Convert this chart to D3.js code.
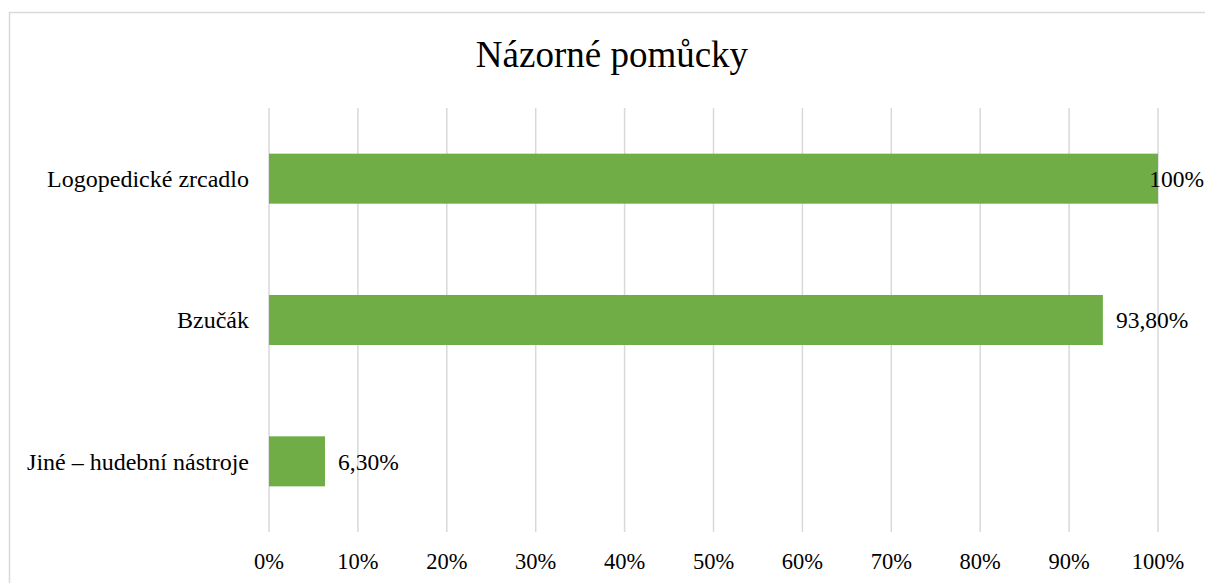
<!DOCTYPE html>
<html>
<head>
<meta charset="utf-8">
<script src="https://cdn.jsdelivr.net/npm/d3@7"></script>
<style>
  body { margin: 0; background: #fff; }
</style>
</head>
<body>
<div id="chart"></div>
<script>
// data
var categories = ["Logopedické zrcadlo", "Bzučák", "Jiné – hudební nástroje"]
var values = [100, 93.8, 6.3]
var valueLabels = ["100%", "93,80%", "6,30%"]
var ticks = [0, 10, 20, 30, 40, 50, 60, 70, 80, 90, 100]

var FONT = "'Liberation Serif', 'Times New Roman', serif"
var W = 1205, H = 583
var margin = {top: 108, right: 47, bottom: 51, left: 269}
var width = W - margin.left - margin.right,
    height = H - margin.top - margin.bottom

var svg = d3.select("#chart").append("svg")
    .attr("width", W)
    .attr("height", H)
    .attr("font-family", FONT)

// chart border
svg.append("rect")
    .attr("x", 9.5).attr("y", 12.5)
    .attr("width", 1200).attr("height", 580)
    .attr("fill", "none")
    .attr("stroke", "#d9d9d9")
    .attr("stroke-width", 1.5)

var g = svg.append("g")
    .attr("transform", "translate(" + margin.left + "," + margin.top + ")")

var x = d3.scaleLinear().domain([0, 100]).range([0, width])
var y = d3.scaleBand().domain(categories).range([0, height]).paddingInner(0.646).paddingOuter(0.323)

// grid lines
g.selectAll(".grid")
    .data(ticks)
  .enter().append("line")
    .attr("class", "grid")
    .attr("x1", function(d) { return x(d) }).attr("x2", function(d) { return x(d) })
    .attr("y1", 0).attr("y2", height)
    .attr("stroke", "#d9d9d9")
    .attr("stroke-width", 1.5)

// tick labels
g.selectAll(".tick-label")
    .data(ticks)
  .enter().append("text")
    .attr("class", "tick-label")
    .attr("x", function(d) { return x(d) })
    .attr("y", height + 37)
    .attr("text-anchor", "middle")
    .attr("font-family", FONT)
    .attr("font-size", 22.5)
    .text(function(d) { return d + "%" })

// bars
g.selectAll(".bar")
    .data(values)
  .enter().append("rect")
    .attr("class", "bar")
    .attr("x", x(0))
    .attr("y", function(d, i) { return y(categories[i]) })
    .attr("width", function(d) { return x(d) - x(0) })
    .attr("height", y.bandwidth())
    .attr("fill", "#70ad47")

// category labels
g.selectAll(".cat")
    .data(categories)
  .enter().append("text")
    .attr("class", "cat")
    .attr("x", -20)
    .attr("y", function(d) { return y(d) + y.bandwidth() / 2 })
    .attr("dy", ".35em")
    .attr("text-anchor", "end")
    .attr("font-family", FONT)
    .attr("font-size", 24)
    .text(function(d) { return d })

// value labels (pushed inside when they would overflow)
g.selectAll(".val")
    .data(values)
  .enter().append("text")
    .attr("class", "val")
    .attr("y", function(d, i) { return y(categories[i]) + y.bandwidth() / 2 })
    .attr("dy", ".35em")
    .attr("font-family", FONT)
    .attr("font-size", 23.5)
    .text(function(d, i) { return valueLabels[i] })
    .attr("x", function(d) {
        var w = this.getComputedTextLength()
        return Math.min(x(d) + 13, W - 1 - margin.left - w)
    })

// title
svg.append("text")
    .attr("x", 612)
    .attr("y", 67)
    .attr("text-anchor", "middle")
    .attr("font-family", FONT)
    .attr("font-size", 37)
    .text("Názorné pomůcky")
</script>
</body>
</html>
